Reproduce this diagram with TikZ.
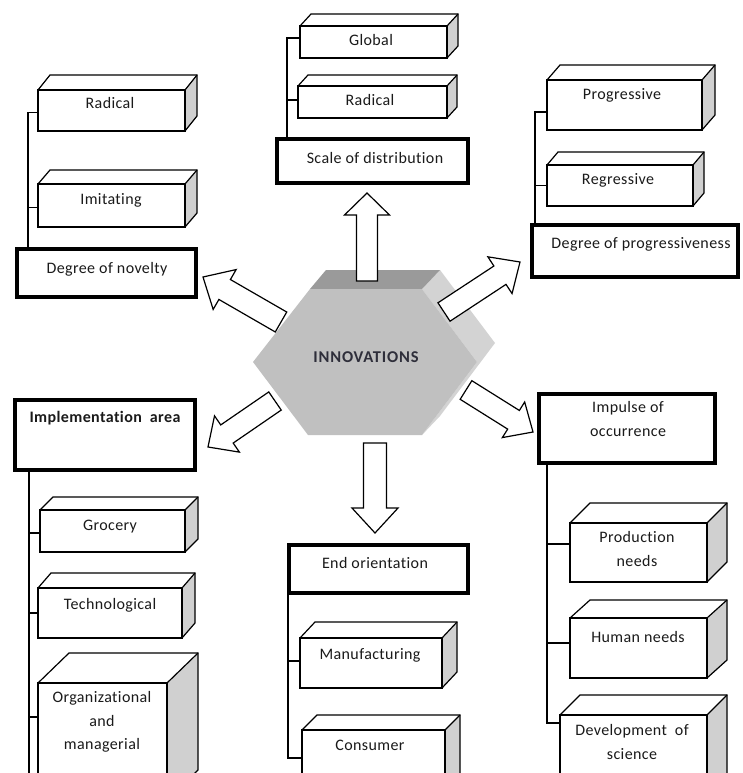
\documentclass[tikz,border=0pt]{standalone}
\usepackage{fontspec}
\setmainfont{Carlito}[Ligatures=NoCommon, LetterSpace=2.5]
\usetikzlibrary{calc}
\definecolor{hexfront}{HTML}{C0C0C0}
\definecolor{hextop}{HTML}{9A9A9A}
\definecolor{hexside}{HTML}{D3D3D3}
\definecolor{sidegray}{HTML}{D0D0D0}
\definecolor{ink}{HTML}{1A1A1A}
\definecolor{innovink}{HTML}{2E2E3A}
\tikzset{
  catbox/.style={draw=black, line width=4pt, fill=white, inner sep=0pt, outer sep=0pt},
  frontbox/.style={draw=black, line width=1.2pt, fill=white, inner sep=0pt, outer sep=0pt},
  edgeline/.style={draw=black, line width=1.2pt, line join=miter},
  conn/.style={draw=black, line width=1.2pt},
  lbl/.style={font=\fontsize{16}{23.5}\selectfont, text=ink, align=center, inner sep=0pt},
  blockarrow/.style={draw=black, line width=1.2pt, fill=white, line join=miter},
}
\newcommand\tdbox[7]{%
  \fill[sidegray] (#4,#3) -- ({#4+#6},{#3-#7}) -- ({#4+#6},{#5-#7}) -- (#4,#5) -- cycle;
  \fill[white] (#2,#3) -- ({#2+#6},{#3-#7}) -- ({#4+#6},{#3-#7}) -- (#4,#3) -- cycle;
  \draw[edgeline] (#2,#3) -- ({#2+#6},{#3-#7}) -- ({#4+#6},{#3-#7}) -- ({#4+#6},{#5-#7}) -- (#4,#5);
  \draw[edgeline] (#4,#3) -- ({#4+#6},{#3-#7});
  \node[frontbox, minimum width={(#4-#2)*1pt}, minimum height={(#5-#3)*1pt}] (#1) at ({(#2+#4)/2},{(#3+#5)/2}) {};
}
\newcommand\catbox[5]{%
  \node[catbox, minimum width={(#4-#2)*1pt}, minimum height={(#5-#3)*1pt}] (#1) at ({(#2+#4)/2},{(#3+#5)/2}) {};
}
\newcommand\blockarrow[5]{%
  \path ($(#2)!#5!(#1)$) coordinate (bacen);
  \draw[blockarrow] ($(#1)!#3!90:(#2)$) -- ($(bacen)!#3!90:(#2)$) -- ($(bacen)!#4!90:(#2)$) -- (#2)
    -- ($(bacen)!#4!-90:(#2)$) -- ($(bacen)!#3!-90:(#2)$) -- ($(#1)!#3!-90:(#2)$) -- cycle;
}
\begin{document}
\begin{tikzpicture}[x=1pt,y=-1pt]
\useasboundingbox (0,0) rectangle (742,773);
\clip (0,0) rectangle (742,773);
\fill[white] (0,0) rectangle (742,773);

% central hexagon
\fill[hexside] (422,289) -- (440,270) -- (495,343) -- (440,416) -- (422,435) -- (477,362) -- cycle;
\fill[hextop] (310,289) -- (326,270) -- (440,270) -- (422,289) -- cycle;
\fill[hexfront] (253,362) -- (310,289) -- (422,289) -- (477,362) -- (422,435) -- (308,435) -- cycle;
\node[lbl, font=\fontsize{16.5}{18}\selectfont\bfseries\addfontfeature{LetterSpace=5}, text=innovink] (innov) at (366,357) {INNOVATIONS};

% block arrows
\coordinate (upT) at (367,281);   \coordinate (upH) at (367,193);
\coordinate (ulT) at (281,322);   \coordinate (ulH) at (203,277);
\coordinate (urT) at (444,312);   \coordinate (urH) at (520,262);
\coordinate (llT) at (275,401);   \coordinate (llH) at (208,447);
\coordinate (lrT) at (466,390);   \coordinate (lrH) at (533,432);
\coordinate (dnT) at (375,443);   \coordinate (dnH) at (375,533);
\blockarrow{upT}{upH}{10.5pt}{22.5pt}{22pt}
\blockarrow{ulT}{ulH}{11.5pt}{23pt}{25pt}
\blockarrow{urT}{urH}{11pt}{22pt}{24pt}
\blockarrow{llT}{llH}{11pt}{22pt}{23pt}
\blockarrow{lrT}{lrH}{11pt}{21pt}{23pt}
\blockarrow{dnT}{dnH}{11.5pt}{23pt}{25pt}

% category boxes
\catbox{scale}{277}{139}{468}{183}
\catbox{novel}{17}{249}{196}{297}
\catbox{progr}{532}{225}{738}{277}
\catbox{impl}{15}{400}{195}{470}
\catbox{impul}{539}{394}{715}{463}
\catbox{endo}{289}{545}{468}{593}

% 3D boxes
\tdbox{glob}{300}{26}{447}{58}{11}{12}
\tdbox{radA}{298}{86}{447}{118}{10}{11}
\tdbox{radB}{38}{90}{185}{131}{12}{15}
\tdbox{imit}{38}{184}{185}{227}{12}{14}
\tdbox{prog}{547}{80}{702}{130}{13}{15}
\tdbox{regr}{547}{165}{693}{206}{11}{13}
\tdbox{groc}{40}{510}{185}{552}{13}{13}
\tdbox{tech}{38}{588}{182}{638}{13}{15}
\tdbox{orgm}{38}{683}{167}{800}{31}{30}
\tdbox{prod}{570}{523}{707}{582}{20}{20}
\tdbox{human}{570}{618}{707}{678}{20}{18}
\tdbox{devs}{560}{715}{707}{800}{20}{20}
\tdbox{manu}{300}{638}{442}{688}{15}{16}
\tdbox{cons}{302}{730}{445}{800}{15}{15}

% connectors
\draw[conn] ([xshift=10pt]scale.north west) |- ([yshift=4pt]glob.west);
\draw[conn] ([xshift=10pt]scale.north west) |- ([yshift=2pt]radA.west);
\draw[conn] ([xshift=11pt]novel.north west) |- ([yshift=-2pt]radB.west);
\draw[conn] ([xshift=11pt]novel.north west) |- ([yshift=-2pt]imit.west);
\draw[conn] ([xshift=3pt]progr.north west) |- ([yshift=-7pt]prog.west);
\draw[conn] ([xshift=3pt]progr.north west) |- (regr.west);
\draw[conn] ([xshift=14pt]impl.south west) -- ++(0,320);
\draw[conn] ([xshift=14pt]impl.south west) |- ([yshift=-2pt]groc.west);
\draw[conn] ([xshift=14pt]impl.south west) |- (tech.west);
\draw[conn] ([xshift=14pt]impl.south west) |- ([yshift=-34pt]orgm.north west);
\draw[conn] ([xshift=8pt]impul.south west) |- ([yshift=-21pt]prod.north west);
\draw[conn] ([xshift=8pt]impul.south west) |- ([yshift=-25pt]human.north west);
\draw[conn] ([xshift=8pt]impul.south west) |- ([yshift=-8pt]devs.north west);
\draw[conn] ([xshift=-1pt]endo.south west) |- ([yshift=-23pt]manu.north west);
\draw[conn] ([xshift=-1pt]endo.south west) |- ([yshift=-28pt]cons.north west);

% labels
\node[lbl] (tScale) at (375,158) {Scale of distribution};
\node[lbl] (tNovel) at (107,269) {Degree of novelty};
\node[lbl] (tProgr) at (641,244) {Degree of progressiveness};
\node[lbl, font=\fontsize{16}{23.5}\selectfont\bfseries] (tImpl) at (105,418) {Implementation\ \ area};
\node[lbl] (tImpul) at (628,419) {Impulse of\\occurrence};
\node[lbl] (tEndo) at (375,563) {End orientation};
\node[lbl] (tGlob) at (371,40) {Global};
\node[lbl] (tRadA) at (370,100) {Radical};
\node[lbl] (tRadB) at (110,103) {Radical};
\node[lbl] (tImit) at (111,200) {Imitating};
\node[lbl] (tProg) at (622,95) {Progressive};
\node[lbl] (tRegr) at (618,180) {Regressive};
\node[lbl] (tGroc) at (110,527) {Grocery};
\node[lbl] (tTech) at (110,605) {Technological};
\node[lbl] (tOrgm) at (102,722) {Organizational\\and\\managerial};
\node[lbl] (tProd) at (637,549) {Production\\needs};
\node[lbl] (tHuman) at (638,637) {Human needs};
\node[lbl] (tDevs) at (632,742) {Development\ \ of\\science};
\node[lbl] (tManu) at (370,655) {Manufacturing};
\node[lbl] (tCons) at (370,745) {Consumer};
\end{tikzpicture}
\end{document}
